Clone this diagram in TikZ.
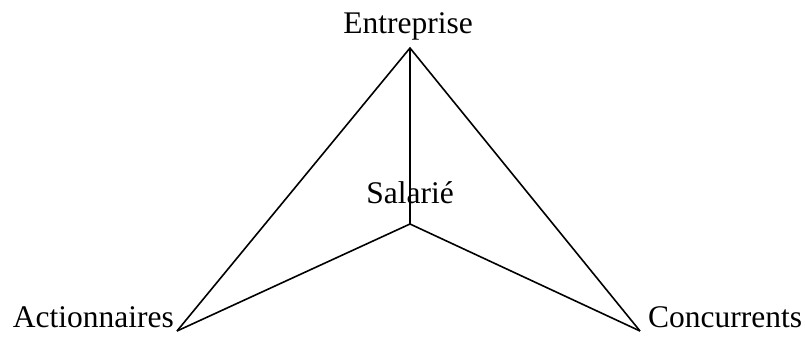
\documentclass[tikz,border=0pt]{standalone}
\usepackage{fontspec}
\setmainfont{Liberation Serif}
\begin{document}
\begin{tikzpicture}[x=1pt,y=-1pt,
  lbl/.style={inner sep=0pt,font=\fontsize{31.5}{37}\selectfont},
  edge/.style={draw=black,line width=1.6pt}]
\useasboundingbox (0,0) rectangle (805,338);
\coordinate (E) at (410,48);
\coordinate (S) at (410,224);
\coordinate (A) at (177,331);
\coordinate (C) at (640,331);
\node[lbl,anchor=base] (tE) at (408,33) {Entreprise};
\node[lbl,anchor=base] (tS) at (410,203) {Salarié};
\node[lbl,anchor=base east] (tA) at (174,327) {Actionnaires};
\node[lbl,anchor=base west] (tC) at (648,327) {Concurrents};
\draw[edge] (A) -- (E) -- (C);
\draw[edge] (E) -- (S);
\draw[edge] (A) -- (S) -- (C);
\end{tikzpicture}
\end{document}
